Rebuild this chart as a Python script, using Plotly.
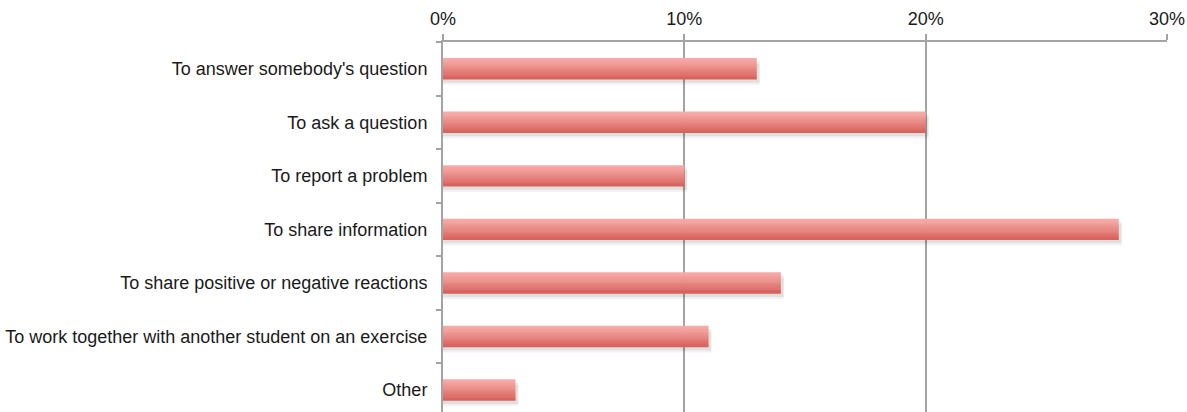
import plotly.graph_objects as go

# Reasons for posting, share of respondents (%)
categories = [
    "To answer somebody's question",
    "To ask a question",
    "To report a problem",
    "To share information",
    "To share positive or negative reactions",
    "To work together with another student on an exercise",
    "Other",
]
shares = [13, 20, 10, 28, 14, 11, 3]
x_ticks = [0, 10, 20, 30]
x_tick_labels = ["0%", "10%", "20%", "30%"]

BAR_W = 0.4
# vertical gradient of each bar, light at the top to deeper red at the bottom
grad = ["#f7aaa7", "#f5a5a2", "#f3a09c", "#f09a96", "#ed938f", "#ea8c88",
        "#e78581", "#e47e79", "#e17772", "#de6f6b", "#db6864", "#d9625d"]

fig = go.Figure()

# soft drop shadow under the bars
for dy, alpha in [(0.10, 0.05), (0.06, 0.07)]:
    fig.add_trace(go.Bar(
        x=[v + 0.12 for v in shares], y=categories, orientation="h",
        width=BAR_W, offset=-BAR_W / 2 + dy,
        marker=dict(color=f"rgba(0,0,0,{alpha})", line=dict(width=0)),
        hoverinfo="skip", showlegend=False,
    ))

n = len(grad)
step = BAR_W / n
for i, c in enumerate(grad):
    fig.add_trace(go.Bar(
        x=shares, y=categories, orientation="h",
        width=step * 1.3 if i < n - 1 else step, offset=-BAR_W / 2 + i * step,
        marker=dict(color=c, line=dict(width=0)),
        showlegend=False,
    ))

fig.update_layout(
    width=1187, height=412,
    margin=dict(l=443, r=20, t=42, b=0),
    paper_bgcolor="white", plot_bgcolor="white",
    barmode="overlay",
    font=dict(family="Liberation Sans, Arial, sans-serif", size=18, color="#1a1a1a"),
)
fig.update_xaxes(
    side="top", range=[0, 30], tickvals=x_ticks, ticktext=x_tick_labels,
    showgrid=True, gridcolor="#a3a3a3", gridwidth=2,
    showline=True, linecolor="#a3a3a3", linewidth=2,
    ticks="outside", ticklen=6, tickwidth=2, tickcolor="#a3a3a3",
    zeroline=False, ticklabelstandoff=2,
)
fig.update_yaxes(
    type="category", categoryorder="array", categoryarray=categories,
    range=[6.41, -0.5], tickson="boundaries",
    showline=True, linecolor="#a3a3a3", linewidth=2,
    ticks="outside", ticklen=5, tickwidth=2, tickcolor="#a3a3a3",
    showgrid=False, ticklabelstandoff=10,
)

fig.write_html("out.html")
